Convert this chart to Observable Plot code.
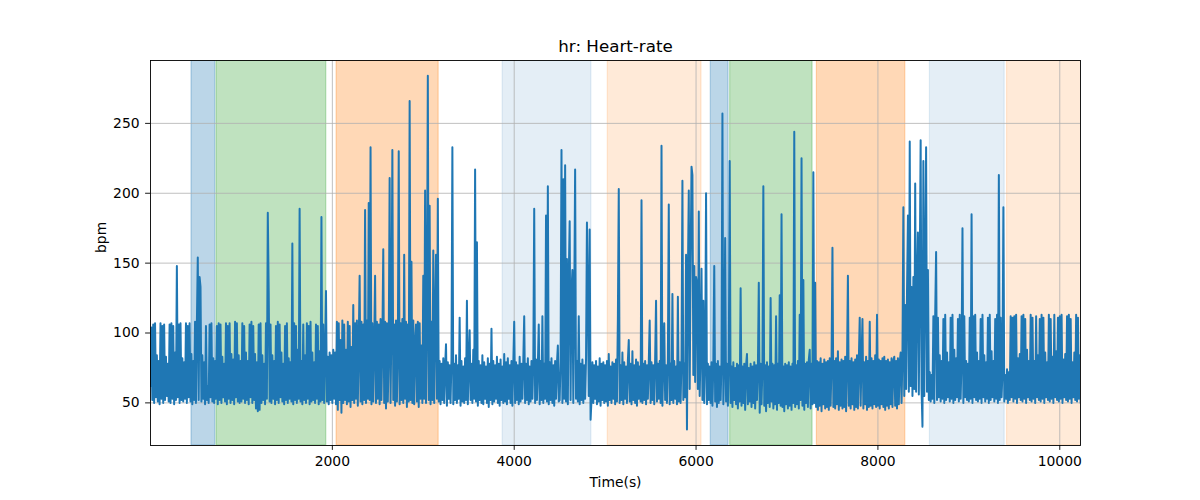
<!DOCTYPE html>
<html>
<head>
<meta charset="utf-8">
<script src="https://cdn.jsdelivr.net/npm/d3@7"></script>
<script src="https://cdn.jsdelivr.net/npm/@observablehq/plot@0.6"></script>
<style>
  html, body { margin: 0; padding: 0; background: #fff; }
  #chart svg { display: block; }
</style>
</head>
<body>
<div id="chart"></div>
<script>
// ---- text ----
const titleText = "hr: Heart-rate";
const xLabelText = "Time(s)";
const yLabelText = "bpm";

// ---- ticks ----
const xTicks = [2000, 4000, 6000, 8000, 10000];
const yTicks = [50, 100, 150, 200, 250];

// ---- heart-rate samples (bpm), one every 10 s (500 s per row) ----
const sampleStep = 10;
const hrRow0  = [62,104,52,106,50,107,54,84,51,80, 49,107,53,105,50,106,52,83,55,78, 51,106,50,107,53,105,49,86,52,148, 54,106,50,107,52,82,51,79,53,107, 50,105,54,107,51,85,49,80,52,108];
const hrRow1  = [50,106,154,52,140,133,51,84,53,79, 49,105,52,62,50,106,54,107,51,82, 50,80,53,105,49,107,52,106,50,83, 54,78,51,107,49,105,53,107,50,85, 52,81,49,108,54,107,51,84,50,80];
const hrRow2  = [51,107,53,105,50,86,52,80,49,106, 54,108,50,105,52,85,46,79,44,106, 45,107,50,84,52,78,49,107,53,186, 130,51,106,50,84,53,80,49,105,52, 108,50,106,54,86,51,78,49,105,52];
const hrRow3  = [107,50,82,53,79,51,164,49,107,52, 105,50,88,53,189,51,80,49,106,52, 84,50,107,53,105,49,108,51,86,52, 79,50,106,53,105,49,87,51,183,52, 106,50,84,130,51,83,49,86,52,84];
const hrRow4  = [50,88,53,86,49,108,45,107,52,95, 43,109,50,106,52,88,49,108,51,105, 47,90,52,120,50,107,53,109,48,92, 141,51,108,49,106,52,188,50,109,53, 193,52,233,49,107,51,92,141,50,108];
const hrRow5  = [53,106,49,110,52,94,160,50,108,46, 107,51,89,211,50,108,231,52,106,48, 109,51,88,230,49,107,52,110,50,156, 53,108,47,106,51,266,52,151,50,109, 49,93,106,51,108,47,107,53,91,50];
const hrRow6  = [141,53,202,50,109,284,52,191,49,108, 52,159,50,107,156,53,196,51,80,49, 78,52,82,50,76,92,48,79,53,77, 50,81,233,49,78,52,84,50,77,53, 111,48,80,51,76,50,82,52,123,49];
const hrRow7  = [79,102,52,78,50,88,53,217,51,165, 48,80,52,77,50,84,49,79,53,76, 50,82,47,78,52,103,49,80,51,77, 53,83,50,78,48,81,52,76,50,85, 51,79,49,82,53,77,50,80,48,78];
const hrRow8  = [108,50,79,52,77,49,83,51,78,53, 80,112,50,78,52,82,49,76,51,80, 53,79,189,50,81,52,77,106,49,80, 52,112,50,78,53,184,51,205,49,79, 52,82,50,77,48,80,53,78,91,51];
const hrRow9  = [52,80,231,50,210,53,220,51,153,49, 140,180,52,130,145,50,120,217,53,80, 51,112,49,78,52,81,50,77,53,82, 179,125,55,174,38,52,79,50,77,53, 80,49,76,51,82,48,78,52,79,50];
const hrRow10 = [77,51,80,48,85,52,76,50,79,53, 78,49,81,51,110,203,50,77,52,86, 49,79,53,76,50,80,95,51,78,49, 87,52,77,50,81,48,79,53,76,51, 195,50,78,52,80,49,77,53,79,109];
const hrRow11 = [50,79,52,77,49,81,123,51,78,53, 80,50,234,48,79,107,52,77,50,81, 192,49,78,52,128,50,80,53,76,49, 126,51,79,50,82,209,52,78,54,156, 31,140,202,60,150,219,213,70,148,65];
const hrRow12 = [140,135,60,187,55,90,146,52,123,50, 80,200,49,78,52,76,50,79,48,77, 148,51,78,47,80,50,76,52,79,257, 49,77,168,51,78,48,80,223,50,76, 47,79,52,75,49,78,46,77,51,132];
const hrRow13 = [48,76,50,78,45,77,85,49,75,51, 78,47,76,50,79,46,77,52,75,136, 43,78,49,76,205,48,77,44,79,50, 76,47,125,51,78,46,77,49,112,45, 78,50,127,48,185,47,76,44,78,49];
const hrRow14 = [77,46,79,48,76,45,78,50,244,47, 77,49,80,46,113,52,225,48,138,45, 78,50,79,47,81,88,46,78,49,215, 50,136,47,80,45,79,48,82,44,78, 49,81,46,79,47,80,45,82,48,79];
const hrRow15 = [161,47,80,46,82,49,87,45,79,48, 81,46,80,47,83,44,79,141,48,80, 46,82,49,79,45,81,47,84,46,80, 111,48,82,110,46,79,49,83,45,80, 47,108,48,82,46,80,49,84,47,113];
const hrRow16 = [48,81,46,80,49,82,47,83,45,80, 48,81,46,79,49,82,47,80,83,48, 80,46,82,49,79,86,50,85,190,55, 120,60,130,184,58,237,62,133,55,140, 60,207,58,135,172,56,145,238,60,33];
const hrRow17 = [223,55,140,233,58,145,52,72,51,70, 53,112,50,113,158,52,111,54,84,51, 80,53,110,50,113,52,86,54,79,51, 111,53,113,50,88,52,82,54,110,51, 113,53,82,175,50,112,54,80,52,78];
const hrRow18 = [51,111,53,185,50,112,54,113,52,86, 51,80,53,110,50,113,54,84,51,79, 53,111,50,113,52,87,54,80,51,110, 53,113,50,213,52,111,54,72,190,51, 70,53,74,50,72,52,112,54,111,51];
const hrRow19 = [112,53,113,50,82,54,85,52,112,51, 113,53,110,50,88,54,80,52,113,51, 111,53,80,50,112,54,84,52,110,51, 113,53,111,50,86,54,79,52,113,51, 110,53,83,50,113,54,87,52,111,51];
const hrRow20 = [112,53,113,50,81,54,85,52,112,51, 113,53,110,50,79,54,86,52,113,51, 111,53,84,50,112];

// ---- shaded phases (seconds) ----
const phaseStart = [451, 726, 2047, 3873, 5029, 6162, 6375, 7329, 8572, 9420];
const phaseEnd   = [712, 1933, 3169, 4849, 6060, 6357, 7281, 8301, 9394, 10240];
const phaseKind  = ["blue", "green", "orange", "lightblue", "lightorange",
                    "blue", "green", "orange", "lightblue", "lightorange"];

// ---- styling ----
const kindFill = {
  blue: "rgba(31,119,180,0.3)",
  green: "rgba(44,160,44,0.3)",
  orange: "rgba(255,127,14,0.3)",
  lightblue: "rgba(31,119,180,0.12)",
  lightorange: "rgba(255,127,14,0.16)"
};
const xDomain = [0, 10228];
const yDomain = [19.5, 295];

const hrValues = [].concat(hrRow0, hrRow1, hrRow2, hrRow3, hrRow4, hrRow5, hrRow6, hrRow7,
  hrRow8, hrRow9, hrRow10, hrRow11, hrRow12, hrRow13, hrRow14, hrRow15, hrRow16,
  hrRow17, hrRow18, hrRow19, hrRow20);
const series = hrValues.map((v, i) => ({t: i * sampleStep, hr: v}));
const phases = phaseStart.map((s, i) => ({start: s, end: phaseEnd[i], kind: phaseKind[i]}));

const gridStyle = {stroke: "#b0b0b0", strokeOpacity: 1, strokeWidth: 0.8};

const chart = Plot.plot({
  width: 1200,
  height: 500,
  marginLeft: 150,
  marginRight: 120,
  marginTop: 60,
  marginBottom: 55,
  style: {fontFamily: "'DejaVu Sans', sans-serif", fontSize: "13.9px", color: "#000", background: "#fff", overflow: "visible"},
  x: {domain: xDomain},
  y: {domain: yDomain},
  color: {type: "identity"},
  marks: [
    Plot.rect(phases, {
      x1: "start", x2: "end",
      y1: () => yDomain[0], y2: () => yDomain[1],
      fill: d => kindFill[d.kind],
      stroke: d => kindFill[d.kind],
      strokeWidth: 1.2,
      clip: true
    }),
    Plot.gridX(xTicks, gridStyle),
    Plot.gridY(yTicks, gridStyle),
    Plot.line(series, {x: "t", y: "hr", stroke: "#1f77b4", strokeWidth: 2, clip: true}),
    Plot.frame({stroke: "#000", strokeWidth: 0.9}),
    Plot.axisX(xTicks, {tickSize: 4.9, tickPadding: 6, label: null, strokeWidth: 0.9, fontSize: 13.9, tickFormat: d => String(d)}),
    Plot.axisY(yTicks, {tickSize: 4.9, tickPadding: 6, label: null, strokeWidth: 0.9, fontSize: 13.9, tickFormat: d => String(d)}),
    Plot.text([titleText], {frameAnchor: "top", dy: -8.3, lineAnchor: "bottom", fontSize: 16.7, text: d => d}),
    Plot.text([xLabelText], {frameAnchor: "bottom", dy: 41.7, lineAnchor: "bottom", fontSize: 13.9, text: d => d}),
    Plot.text([yLabelText], {frameAnchor: "left", dx: -49, rotate: -90, lineAnchor: "middle", fontSize: 13.9, text: d => d})
  ]
});
document.getElementById("chart").appendChild(chart);
</script>
</body>
</html>
